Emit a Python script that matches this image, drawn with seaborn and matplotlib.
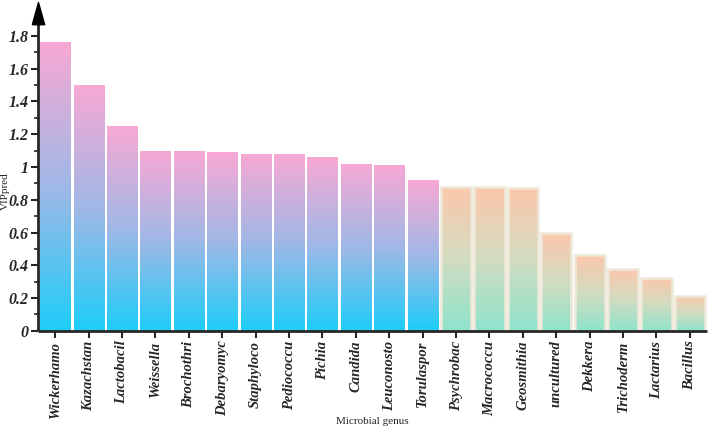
import numpy as np
import pandas as pd
import matplotlib
matplotlib.use("Agg")
import matplotlib.pyplot as plt
import seaborn as sns
from matplotlib.colors import LinearSegmentedColormap
from matplotlib.ticker import FixedLocator, MultipleLocator, FormatStrFormatter

genus = ["Wickerhamo", "Kazachstan", "Lactobacil", "Weissella", "Brochothri",
         "Debaryomyc", "Staphyloco", "Pediococcu", "Pichia", "Candida",
         "Leuconosto", "Torulaspor", "Psychrobac", "Macrococcu", "Geosmithia",
         "uncultured", "Dekkera", "Trichoderm", "Lactarius", "Bacillus"]
vip = [1.76, 1.50, 1.25, 1.10, 1.10, 1.09, 1.08, 1.08, 1.06, 1.02,
       1.01, 0.92, 0.88, 0.875, 0.87, 0.60, 0.46, 0.38, 0.325, 0.215]
group = ["high"] * 12 + ["low"] * 8
yticks = [0, 0.2, 0.4, 0.6, 0.8, 1.0, 1.2, 1.4, 1.6, 1.8]

df = pd.DataFrame({"genus": genus, "vip": vip, "group": group})

sns.set_style("ticks")
plt.rcParams["font.family"] = ["Liberation Serif", "DejaVu Serif"]

fig = plt.figure(figsize=(7.08, 4.28), dpi=100)
ax = fig.add_axes([0.054, 0.227, 0.944, 0.76])

sns.barplot(data=df, x="genus", y="vip", color="white", width=0.9,
            saturation=1, ax=ax)

# gradient fill for each bar
cmap_hi = LinearSegmentedColormap.from_list("hi", ["#1ecdf8", "#a0b8e6", "#f8a8d4"])
cmap_lo = LinearSegmentedColormap.from_list("lo", ["#8ee4cc", "#d2dcc0", "#fdc7ac"])
grad = np.linspace(0, 1, 256).reshape(-1, 1)
for patch, g in zip(ax.patches, df["group"]):
    x0, y0 = patch.get_x(), patch.get_y()
    w, h = patch.get_width(), patch.get_height()
    cmap = cmap_hi if g == "high" else cmap_lo
    im = ax.imshow(grad, cmap=cmap, origin="lower", aspect="auto",
                   extent=[x0, x0 + w, y0, y0 + h], zorder=1)
    im.set_clip_path(patch)
    patch.set_facecolor("none")
    if g == "low":
        patch.set_edgecolor("#eee8d8")
        patch.set_linewidth(1.8)
    else:
        patch.set_edgecolor("none")
    patch.set_zorder(2)

ax.set_xlim(-0.51, 19.5)
ax.set_ylim(0, 1.985)
ax.yaxis.set_major_locator(FixedLocator(yticks))
ax.yaxis.set_minor_locator(MultipleLocator(0.1))
ax.yaxis.set_major_formatter(FormatStrFormatter("%g"))

sns.despine(ax=ax)
for s in ["left", "bottom"]:
    ax.spines[s].set_linewidth(2)
    ax.spines[s].set_capstyle("butt")
ax.tick_params(axis="both", which="major", width=1.5, length=5, direction="out")
ax.tick_params(axis="y", which="minor", width=1.2, length=3)
ax.tick_params(axis="y", labelsize=11.5, pad=2)
ax.tick_params(axis="x", labelsize=10.5, pad=2)

for lab in ax.get_yticklabels():
    lab.set_fontweight("bold")
    lab.set_fontstyle("italic")
ax.set_xticks(range(len(genus)))
ax.set_xticklabels(genus, rotation=90, fontweight="bold", fontstyle="italic")

ax.set_xlabel("Microbial genus", fontsize=8)
ax.set_ylabel("VIPpred", fontsize=8)
ax.xaxis.set_label_coords(0.5, -0.265)
ax.yaxis.set_label_coords(-0.043, 0.43)

# arrow head on top of the y axis
ax.plot([0], [1.01], marker=[(-1, -3.6), (1, -3.6), (0, 0), (-1, -3.6)],
        markersize=32, color="black", transform=ax.transAxes,
        clip_on=False, zorder=5)

fig.savefig("out.png", dpi=100)
